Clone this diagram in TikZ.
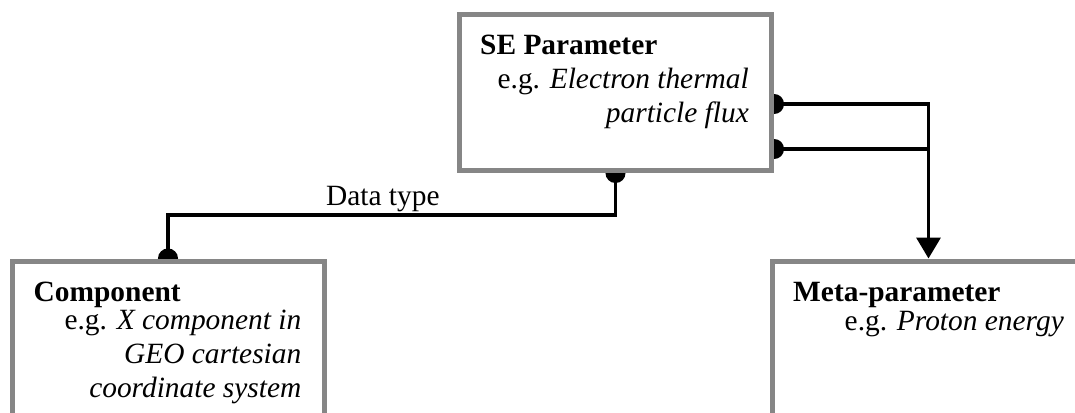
\documentclass[tikz,border=0pt]{standalone}
\usepackage{fontspec}
\setmainfont{Liberation Serif}
\usetikzlibrary{arrows.meta,positioning}
\definecolor{boxgray}{RGB}{134,134,134}
\pgfdeclarelayer{back}
\pgfsetlayers{back,main}

\begin{document}
\begin{tikzpicture}[x=1pt,y=-1pt,
  every node/.style={font=\fontsize{29.4}{33.8}\selectfont},
  bump/.tip={Circle[length=20pt]},
  entity/.style={draw=boxgray,line width=5pt,fill=white,minimum width=312pt,minimum height=156pt,inner sep=0pt},
  title/.style={anchor=base west,inner sep=0pt,font=\fontsize{29.4}{33.8}\selectfont\bfseries},
  example/.style={anchor=base east,align=right,inner sep=0pt},
  link/.style={line width=3.5pt}]
  \useasboundingbox (0,0) rectangle (1075,412);
  \clip (0,0) rectangle (1075,412);

  % entities
  \node[entity] (se)   at (615.5,92.5) {};
  \node[entity] (comp) at (168,339)    {};
  \node[entity] (meta) at (928.5,339)  {};

  % texts (example anchor = baseline of the last line)
  \node[title]   (se-title)   at ([shift={(23,43)}]se.north west)      {SE Parameter};
  \node[example] (se-eg)      at ([shift={(-25,110)}]se.north east)    {e.g. \textit{Electron thermal}\\\textit{particle flux}};
  \node[title]   (comp-title) at ([shift={(24,42.5)}]comp.north west)  {Component};
  \node[example] (comp-eg)    at ([shift={(-25,138.5)}]comp.north east) {e.g. \textit{X component in}\\\textit{GEO cartesian}\\\textit{coordinate system}};
  \node[title]   (meta-title) at ([shift={(23,42.5)}]meta.north west)  {Meta-parameter};
  \node[example] (meta-eg)    at ([shift={(-23,71.5)}]meta.north east) {e.g. \textit{Proton energy}};

  % relations
  \coordinate (se-hi) at ([yshift=-11.5pt]se.east);
  \coordinate (se-lo) at ([yshift=-56.5pt]se.east);
  \begin{pgfonlayer}{back}
    \draw[link,bump-bump,shorten <=-10pt,shorten >=-10pt] (se.south) -- ++(0,42)
      -| node[pos=0.26,above,inner sep=1.5pt] {Data type} (comp.north);
    \draw[link,bump-{Triangle[width=24pt,length=21pt]},shorten <=-10pt] (se-hi) -| (meta.north);
    \draw[link,bump-,shorten <=-10pt] (se-lo) -- (se-lo -| meta.north);
  \end{pgfonlayer}
\end{tikzpicture}
\end{document}
